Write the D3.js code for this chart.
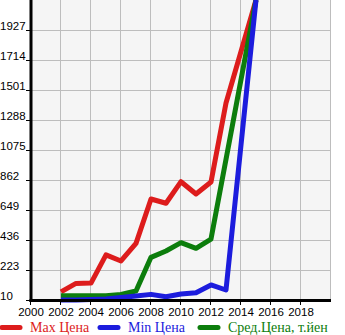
<!DOCTYPE html>
<html>
<head>
<meta charset="utf-8">
<script src="https://cdn.jsdelivr.net/npm/d3@7/dist/d3.min.js"></script>
<style>
  html, body { margin: 0; padding: 0; background: #fff; }
  svg { display: block; }
</style>
</head>
<body>
<svg id="chart" width="345" height="335"></svg>
<script>
// Price history by year
const maxYears = [2002, 2003, 2004, 2005, 2006, 2007, 2008, 2009, 2010, 2011, 2012, 2013, 2015];
const maxPrice = [68, 128, 130, 330, 287, 412, 727, 697, 850, 763, 848, 1409, 2140];

const minYears = [2002, 2003, 2004, 2005, 2006, 2007, 2008, 2009, 2010, 2011, 2012, 2013, 2015];
const minPrice = [10, 10, 13, 17, 28, 38, 50, 33, 53, 62, 117, 81, 2140];

const avgYears = [2002, 2003, 2004, 2005, 2006, 2007, 2008, 2009, 2010, 2011, 2012, 2015];
const avgPrice = [40, 40, 40, 40, 50, 74, 313, 358, 417, 377, 443, 2140];

const yTicks = [10, 223, 436, 649, 862, 1075, 1288, 1501, 1714, 1927];
const xTicks = [2000, 2002, 2004, 2006, 2008, 2010, 2012, 2014, 2016, 2018];

const seriesNames = ["Max Цена", "Min Цена", "Сред.Цена, т.йен"];
const seriesColors = ["#dd1c1c", "#1c1cdd", "#0c7d0c"];

(function () {
  const svg = d3.select("#chart");
  const pLeft = 31, pRight = 331, pTop = 0, pBottom = 300;

  const x = d3.scaleLinear().domain([2000, 2020]).range([pLeft, pRight]);
  const y = d3.scaleLinear().domain([10, 2140]).range([pBottom, pTop]);

  // plot background
  svg.append("rect")
    .attr("x", pLeft).attr("y", pTop)
    .attr("width", pRight - pLeft).attr("height", pBottom - pTop)
    .attr("fill", "#f5f5f5");

  // grid
  const grid = svg.append("g").attr("stroke", "#bdbdbd").attr("stroke-width", 1);
  grid.selectAll("line.v").data(xTicks.concat([2020]).filter(d => d > 2000)).enter()
    .append("line")
    .attr("x1", d => Math.round(x(d)) - 0.5).attr("x2", d => Math.round(x(d)) - 0.5)
    .attr("y1", pTop).attr("y2", pBottom);
  grid.selectAll("line.h").data(yTicks.filter(d => d > 10)).enter()
    .append("line")
    .attr("x1", pLeft).attr("x2", pRight)
    .attr("y1", d => Math.round(y(d)) + 0.5).attr("y2", d => Math.round(y(d)) + 0.5);

  // lines
  svg.append("clipPath").attr("id", "plotClip")
    .append("rect").attr("x", pLeft).attr("y", pTop)
    .attr("width", pRight - pLeft).attr("height", pBottom - pTop + 3);

  const line = d3.line().x(d => x(d[0])).y(d => y(d[1]));
  const series = [
    d3.zip(maxYears, maxPrice),
    d3.zip(minYears, minPrice),
    d3.zip(avgYears, avgPrice)
  ];
  const drawOrder = [0, 2, 1];
  const lines = svg.append("g").attr("clip-path", "url(#plotClip)");
  drawOrder.forEach(i => {
    lines.append("path")
      .datum(series[i])
      .attr("d", line)
      .attr("fill", "none")
      .attr("stroke", seriesColors[i])
      .attr("stroke-width", 5)
      .attr("stroke-linejoin", "round");
  });

  // axes
  const axisFont = "'Liberation Sans', Arial, sans-serif";
  svg.append("line").attr("x1", pLeft).attr("x2", pLeft)
    .attr("y1", pTop).attr("y2", pBottom + 2)
    .attr("stroke", "#000").attr("stroke-width", 3);
  svg.append("line").attr("x1", pLeft - 1.5).attr("x2", pRight)
    .attr("y1", pBottom + 0.5).attr("y2", pBottom + 0.5)
    .attr("stroke", "#000").attr("stroke-width", 3);

  // y ticks and labels
  svg.selectAll("line.yt").data(yTicks).enter().append("line")
    .attr("x1", 26).attr("x2", pLeft)
    .attr("y1", d => Math.round(y(d)) + 0.5).attr("y2", d => Math.round(y(d)) + 0.5)
    .attr("stroke", "#000").attr("stroke-width", 1);
  svg.selectAll("text.yl").data(yTicks).enter().append("text")
    .attr("x", 0).attr("y", d => y(d))
    .attr("font-family", axisFont).attr("font-size", 11.5)
    .attr("fill", "#000")
    .text(d => d);

  // x ticks and labels
  svg.selectAll("line.xt").data(xTicks).enter().append("line")
    .attr("x1", d => Math.round(x(d)) - 0.5).attr("x2", d => Math.round(x(d)) - 0.5)
    .attr("y1", pBottom).attr("y2", pBottom + 5)
    .attr("stroke", "#000").attr("stroke-width", 1);
  svg.selectAll("text.xl").data(xTicks).enter().append("text")
    .attr("x", d => x(d)).attr("y", 316)
    .attr("text-anchor", "middle")
    .attr("font-family", axisFont).attr("font-size", 11.5)
    .attr("fill", "#000")
    .text(d => d);

  // legend
  const legendX = [0, 98, 198];
  const legend = svg.append("g");
  seriesNames.forEach((name, i) => {
    legend.append("line")
      .attr("x1", legendX[i] + 2).attr("x2", legendX[i] + 20)
      .attr("y1", 327.5).attr("y2", 327.5)
      .attr("stroke", seriesColors[i]).attr("stroke-width", 5)
      .attr("stroke-linecap", "round");
    legend.append("text")
      .attr("x", legendX[i] + 30).attr("y", 332)
      .attr("font-family", "'Liberation Serif', 'Times New Roman', serif")
      .attr("font-size", 14)
      .attr("fill", seriesColors[i])
      .text(name);
  });
})();
</script>
</body>
</html>
